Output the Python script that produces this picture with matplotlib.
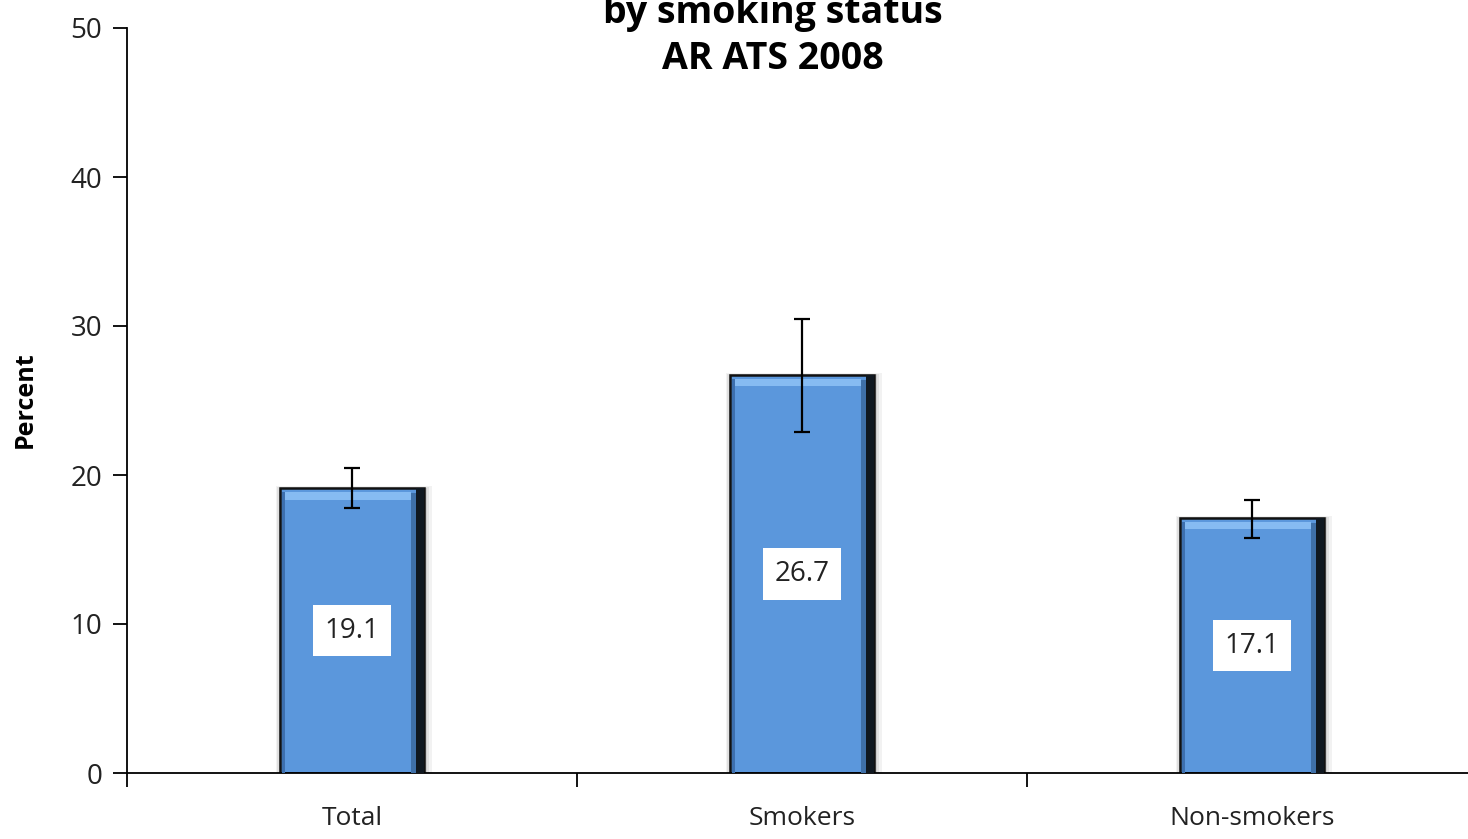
import numpy as np
import matplotlib.pyplot as plt
from matplotlib.patches import Rectangle

# data
groups = ['Total', 'Smokers', 'Non-smokers']
percent = [19.1, 26.7, 17.1]
ci_low = [17.8, 22.9, 15.8]
ci_high = [20.5, 30.5, 18.3]

W, H = 1468, 839
fig = plt.figure(figsize=(W / 100, H / 100), dpi=100)
ax = fig.add_axes([127 / W, 66 / H, 1350 / W, 745 / H])

x = np.arange(len(groups))
bw = 0.32
blue = '#5b97dc'

# soft drop shadow behind each bar
for xi, v in zip(x, percent):
    for k, a in enumerate([0.05, 0.07, 0.09]):
        d = 0.006 * (3 - k)
        ax.add_patch(Rectangle((xi - bw / 2 - d * 0.5, 0), bw + d * 1.5, v + d * 8,
                               facecolor='black', alpha=a, edgecolor='none', zorder=1))

ax.bar(x, percent, width=bw, color=blue, edgecolor='#111111', linewidth=1.8, zorder=2)

# bevel: dark right side, light top rim
for xi, v in zip(x, percent):
    ax.add_patch(Rectangle((xi + bw / 2 - 0.018, 0), 0.018, v,
                           facecolor='#101820', edgecolor='none', zorder=3))
    ax.add_patch(Rectangle((xi + bw / 2 - 0.030, 0), 0.012, v - 0.3,
                           facecolor='#3f70a8', edgecolor='none', zorder=3))
    ax.add_patch(Rectangle((xi - bw / 2 + 0.006, v - 0.75), bw - 0.036, 0.5,
                           facecolor='#86bbf2', edgecolor='none', zorder=3))
    ax.add_patch(Rectangle((xi - bw / 2 + 0.004, 0), 0.008, v - 0.25,
                           facecolor='#3d6fae', edgecolor='none', zorder=3))

yerr = [np.array(percent) - np.array(ci_low), np.array(ci_high) - np.array(percent)]
ax.errorbar(x, percent, yerr=yerr, fmt='none', ecolor='black', elinewidth=1.6,
            capsize=5.5, capthick=1.6, zorder=5)

for xi, v in zip(x, percent):
    ax.text(xi, v / 2, f'{v:.1f}', ha='center', va='center', fontsize=20,
            family='Open Sans', color='#222222', zorder=6,
            bbox=dict(boxstyle='square,pad=0.42', facecolor='white', edgecolor='none'))

ax.set_xlim(-0.5, 2.5)
ax.set_ylim(0, 50)
ax.set_yticks(range(0, 51, 10))
ax.set_yticklabels([str(t) for t in range(0, 51, 10)], family='Open Sans', fontsize=20,
                   color='#222222')
ax.tick_params(axis='y', length=10, width=1.3, direction='out', pad=8)

ax.set_xticks(x)
ax.set_xticklabels(groups, family='Open Sans', fontsize=19, color='#222222')
ax.set_xticks(np.arange(-0.5, 2.6, 1), minor=True)
ax.tick_params(axis='x', which='major', length=0, pad=24)
ax.tick_params(axis='x', which='minor', length=10, width=1.3, direction='out')

for s in ['top', 'right']:
    ax.spines[s].set_visible(False)
ax.spines['left'].set_linewidth(1.3)
ax.spines['bottom'].set_linewidth(1.3)

fig.text(25 / W, 1 - 400 / H, 'Percent', rotation=90, ha='center', va='center',
         fontsize=18, fontweight='bold', family='Open Sans')

fig.text(773 / W, 1 - 36 / H, 'by smoking status\nAR ATS 2008', ha='center', va='center',
         fontsize=27, fontweight='bold', family='Open Sans', linespacing=1.3)

fig.savefig('out.png', dpi=100)
